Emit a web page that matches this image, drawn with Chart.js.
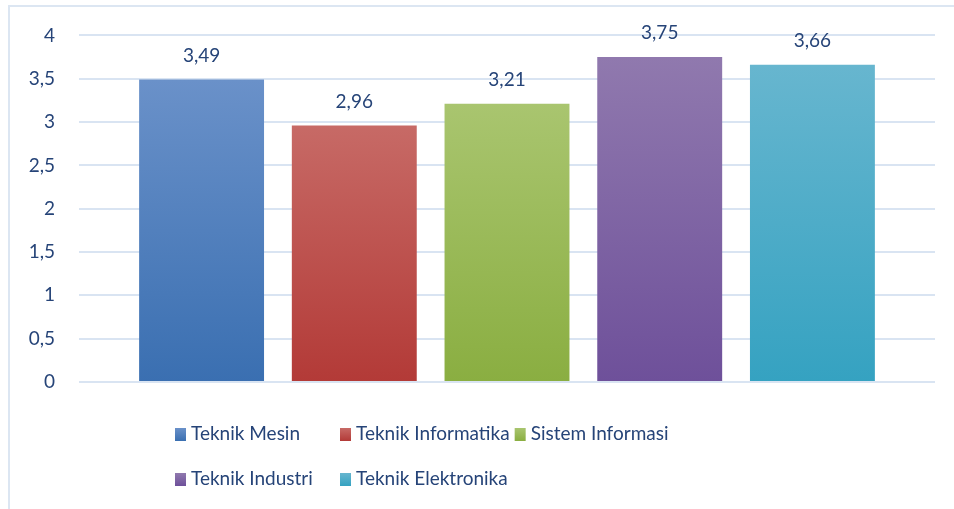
<!DOCTYPE html>
<html>
<head>
<meta charset="utf-8">
<script src="https://cdn.jsdelivr.net/npm/chart.js@4"></script>
<style>
  html, body { margin: 0; padding: 0; background: #fff; }
  #wrap { position: relative; width: 954px; height: 509px; overflow: hidden; }
  #frame { position: absolute; left: 8px; top: 5px; width: 1000px; height: 600px; border: 2px solid #dce6f2; }
  canvas { position: absolute; left: 0; top: 0; }
</style>
</head>
<body>
<div id="wrap">
  <div id="frame"></div>
  <canvas id="chart" width="954" height="509"></canvas>
</div>
<script>
// ---------- DATA ----------
const programs = ["Teknik Mesin", "Teknik Informatika", "Sistem Informasi", "Teknik Industri", "Teknik Elektronika"];
const scores = [3.49, 2.96, 3.21, 3.75, 3.66];
const yTicks = [0, 0.5, 1, 1.5, 2, 2.5, 3, 3.5, 4];

// top / bottom colours of each bar gradient
const topColors = ["#6A91C9", "#C76A66", "#A9C56F", "#9079AE", "#67B6CF"];
const bottomColors = ["#3A6FB1", "#B33A37", "#8AAE41", "#6E509A", "#35A2C1"];

const textColor = "#264478";
const fontFamily = "Lato, 'Noto Sans', sans-serif";

function comma(v, digits) {
  return (digits != null ? v.toFixed(digits) : String(v)).replace(".", ",");
}

function barGradient(ctx, i) {
  const chart = ctx.chart;
  const y = chart.scales.y;
  if (!y || !chart.chartArea) return topColors[i];
  const top = y.getPixelForValue(scores[i]);
  const base = y.getPixelForValue(0);
  const g = chart.ctx.createLinearGradient(0, top, 0, base);
  g.addColorStop(0, topColors[i]);
  g.addColorStop(1, bottomColors[i]);
  return g;
}

// ---------- VALUE LABELS ----------
const valueLabels = {
  id: "valueLabels",
  afterDatasetsDraw(chart) {
    const c = chart.ctx;
    c.save();
    c.font = "19px " + fontFamily;
    c.fillStyle = textColor;
    c.textAlign = "center";
    c.textBaseline = "middle";
    chart.data.datasets.forEach((ds, i) => {
      const bar = chart.getDatasetMeta(i).data[0];
      c.fillText(comma(ds.data[0], 2), bar.x, bar.y - 24);
    });
    c.restore();
  }
};

// ---------- LEGEND (two rows, column grid) ----------
const gridLegend = {
  id: "gridLegend",
  afterDraw(chart) {
    const c = chart.ctx;
    const cols = [175, 340, 502];
    const rows = [434, 479];
    c.save();
    c.font = "19px " + fontFamily;
    c.textBaseline = "middle";
    let prevEnd = 0;
    chart.data.datasets.forEach((ds, i) => {
      const col = i % 3;
      let x = cols[col];
      if (col > 0) x = Math.max(x, prevEnd + 5);
      const y = rows[Math.floor(i / 3)];
      const g = c.createLinearGradient(0, y - 6, 0, y + 7);
      g.addColorStop(0, topColors[i]);
      g.addColorStop(1, bottomColors[i]);
      c.fillStyle = g;
      c.fillRect(x, y - 6, 11, 13);
      c.fillStyle = textColor;
      c.fillText(ds.label, x + 16, y);
      prevEnd = x + 16 + c.measureText(ds.label).width;
    });
    c.restore();
  }
};

// ---------- CHART ----------
new Chart(document.getElementById("chart"), {
  type: "bar",
  data: {
    labels: [""],
    datasets: programs.map((name, i) => ({
      label: name,
      data: [scores[i]],
      backgroundColor: ctx => barGradient(ctx, i),
      borderWidth: 0
    }))
  },
  options: {
    responsive: false,
    animation: false,
    categoryPercentage: 0.892,
    barPercentage: 0.818,
    layout: { padding: { left: 0, right: 19, top: 35, bottom: 127 } },
    plugins: {
      legend: { display: false },
      tooltip: { enabled: false }
    },
    scales: {
      x: { display: false },
      y: {
        min: 0,
        max: 4,
        afterBuildTicks: scale => { scale.ticks = yTicks.map(v => ({ value: v })); },
        afterFit: scale => { scale.width = 79; },
        border: { display: false },
        grid: { color: "#d9e4f2", lineWidth: 2, drawTicks: false },
        ticks: {
          padding: 24,
          color: textColor,
          font: { family: fontFamily, size: 19 },
          callback: v => comma(v)
        }
      }
    }
  },
  plugins: [valueLabels, gridLegend]
});
</script>
</body>
</html>
